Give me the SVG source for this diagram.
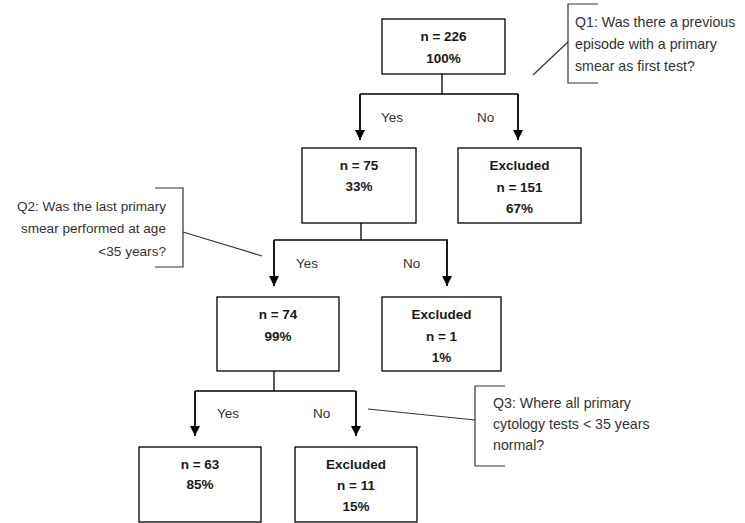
<svg xmlns="http://www.w3.org/2000/svg" width="745" height="523" viewBox="0 0 745 523">
<defs>
<marker id="ah" markerWidth="10" markerHeight="10" refX="10" refY="5" orient="auto" markerUnits="userSpaceOnUse" viewBox="0 0 10 10">
<path d="M0,0 L10,5 L0,10 Z" fill="#000"/>
</marker>
<style>
.box{fill:#fff;stroke:#000;stroke-width:1.3}
.b{font-family:"Liberation Sans",Arial,sans-serif;font-size:13.5px;font-weight:bold;fill:#1a1a1a;text-anchor:middle}
.t{font-family:"Liberation Sans",Arial,sans-serif;font-size:14.2px;fill:#333}
.t2{font-family:"Liberation Sans",Arial,sans-serif;font-size:13.6px;fill:#333;text-anchor:end}
.y{font-family:"Liberation Sans",Arial,sans-serif;font-size:13.5px;fill:#333}
.ln{fill:none;stroke:#000;stroke-width:1.3}
.ar{fill:none;stroke:#000;stroke-width:1.8}
.br{fill:none;stroke:#333;stroke-width:1.2}
</style>
</defs>
<rect width="745" height="523" fill="#fff"/>

<g id="connectors">
<polyline class="ln" points="442,74 442,94"/>
<polyline class="ln" points="360,94 518,94"/>
<line class="ar" x1="360" y1="94" x2="360" y2="140" marker-end="url(#ah)"/>
<line class="ar" x1="518" y1="94" x2="518" y2="140" marker-end="url(#ah)"/>
<polyline class="ln" points="361,223 361,240"/>
<polyline class="ln" points="274,240 448,240"/>
<line class="ar" x1="274" y1="240" x2="274" y2="286" marker-end="url(#ah)"/>
<line class="ar" x1="447" y1="240" x2="447" y2="286" marker-end="url(#ah)"/>
<polyline class="ln" points="274,371 274,391"/>
<polyline class="ln" points="195,391 356,391"/>
<line class="ar" x1="195" y1="391" x2="195" y2="436" marker-end="url(#ah)"/>
<line class="ar" x1="356" y1="391" x2="356" y2="436" marker-end="url(#ah)"/>
<text class="y" x="381" y="122">Yes</text>
<text class="y" x="477" y="122">No</text>
<text class="y" x="296" y="268">Yes</text>
<text class="y" x="403" y="268">No</text>
<text class="y" x="217" y="418">Yes</text>
<text class="y" x="313" y="418">No</text>
</g>

<g id="n226">
<rect class="box" x="382" y="19" width="123" height="55"/>
<text class="b" x="443.5" y="41">n = 226</text>
<text class="b" x="443.5" y="63">100%</text>
</g>
<g id="n75">
<rect class="box" x="302" y="148" width="114" height="75"/>
<text class="b" x="359" y="170">n = 75</text>
<text class="b" x="359" y="191">33%</text>
</g>
<g id="excl151">
<rect class="box" x="458" y="148" width="123" height="75"/>
<text class="b" x="519.5" y="170">Excluded</text>
<text class="b" x="519.5" y="192">n = 151</text>
<text class="b" x="519.5" y="213">67%</text>
</g>
<g id="n74">
<rect class="box" x="217" y="297" width="122" height="74"/>
<text class="b" x="278" y="319">n = 74</text>
<text class="b" x="278" y="341">99%</text>
</g>
<g id="excl1">
<rect class="box" x="382" y="297" width="119" height="74"/>
<text class="b" x="441.5" y="319">Excluded</text>
<text class="b" x="441.5" y="341">n = 1</text>
<text class="b" x="441.5" y="362">1%</text>
</g>
<g id="n63">
<rect class="box" x="139" y="447" width="122" height="75"/>
<text class="b" x="200" y="469">n = 63</text>
<text class="b" x="200" y="489">85%</text>
</g>
<g id="excl11">
<rect class="box" x="295" y="447" width="122" height="75"/>
<text class="b" x="356" y="469">Excluded</text>
<text class="b" x="356" y="490">n = 11</text>
<text class="b" x="356" y="511">15%</text>
</g>

<g id="q1">
<polyline class="br" points="598,4 568,4 568,83 598,83"/>
<line class="br" x1="533" y1="75" x2="568" y2="42"/>
<text class="t" x="575" y="27">Q1: Was there a previous</text>
<text class="t" x="575" y="49">episode with a primary</text>
<text class="t" x="575" y="71">smear as first test?</text>
</g>
<g id="q2">
<polyline class="br" points="155,188 183,188 183,267 155,267"/>
<line class="br" x1="183" y1="232" x2="262" y2="256"/>
<text class="t2" x="166" y="211">Q2: Was the last primary</text>
<text class="t2" x="166" y="233">smear performed at age</text>
<text class="t2" x="166" y="256">&lt;35 years?</text>
</g>
<g id="q3">
<polyline class="br" points="505,386 475,386 475,466 505,466"/>
<line class="br" x1="368" y1="409" x2="475" y2="420"/>
<text class="t" x="493" y="408">Q3: Where all primary</text>
<text class="t" x="493" y="429">cytology tests &lt; 35 years</text>
<text class="t" x="493" y="450">normal?</text>
</g>
</svg>
